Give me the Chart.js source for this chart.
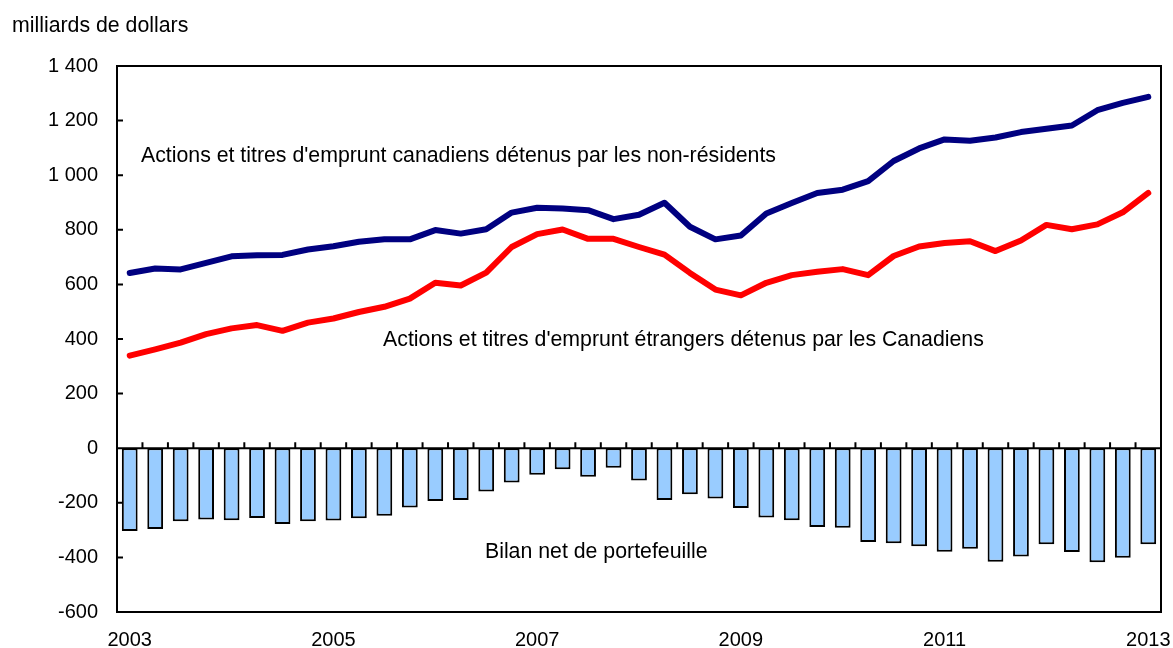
<!DOCTYPE html>
<html>
<head>
<meta charset="utf-8">
<script src="https://cdn.jsdelivr.net/npm/chart.js@4.4.1/dist/chart.umd.min.js"></script>
<style>
  html, body { margin: 0; padding: 0; background: #fff; }
  #wrap { width: 1173px; height: 648px; }
</style>
</head>
<body>
<div id="wrap"><canvas id="chart"></canvas></div>
<script>
// quarterly, 2003 Q1 to 2013 Q1
const quarters = [
  '2003-1','2003-2','2003-3','2003-4','2004-1','2004-2','2004-3','2004-4',
  '2005-1','2005-2','2005-3','2005-4','2006-1','2006-2','2006-3','2006-4',
  '2007-1','2007-2','2007-3','2007-4','2008-1','2008-2','2008-3','2008-4',
  '2009-1','2009-2','2009-3','2009-4','2010-1','2010-2','2010-3','2010-4',
  '2011-1','2011-2','2011-3','2011-4','2012-1','2012-2','2012-3','2012-4',
  '2013-1'
];
const yearLabels = ['2003', '2005', '2007', '2009', '2011', '2013'];

// milliards de dollars
const nonResidentHoldings = [
  642, 658, 655, 679, 703, 707, 708, 728, 740, 756,
  765, 765, 799, 786, 802, 863, 881, 878, 872, 839,
  855, 899, 811, 765, 779, 860, 898, 935, 947, 978,
  1052, 1098, 1131, 1126, 1138, 1158, 1170, 1182, 1238, 1265,
  1287
];
const canadianHoldings = [
  339, 362, 387, 418, 439, 451, 430, 460, 475, 499,
  518, 548, 606, 596, 643, 737, 784, 801, 767, 767,
  737, 709, 642, 581, 560, 606, 634, 646, 656, 634,
  704, 739, 752, 758, 722, 761, 818, 802, 820, 864,
  935
];
const netPortfolio = [
  -303, -296, -268, -261, -264, -256, -278, -268, -265, -257,
  -247, -217, -193, -190, -159, -126, -97, -77, -105, -72,
  -118, -190, -169, -184, -219, -254, -264, -289, -291, -344,
  -348, -359, -379, -368, -416, -397, -352, -380, -418, -401,
  -352
];

const FAMILY = '"Liberation Sans", Arial, sans-serif';
const TICK_FONT = { family: FAMILY, size: 20 };
const TEXT_FONT = `21.3px ${FAMILY}`;

function formatThousands(v) {
  const s = Math.abs(v).toString().replace(/\B(?=(\d{3})+(?!\d))/g, ' ');
  return (v < 0 ? '-' : '') + s;
}

// frame, zero line, small tick marks and the text labels
const decorations = {
  id: 'decorations',
  afterDatasetsDraw(chart) {
    const { ctx, chartArea: a, scales: { x, y } } = chart;
    ctx.save();
    ctx.strokeStyle = '#000';
    ctx.lineWidth = 2;

    const y0 = y.getPixelForValue(0);
    ctx.beginPath();
    ctx.moveTo(a.left, y0);
    ctx.lineTo(a.right, y0);
    for (let i = 0; i < quarters.length - 1; i++) {
      const px = (x.getPixelForValue(i) + x.getPixelForValue(i + 1)) / 2;
      ctx.moveTo(px, y0);
      ctx.lineTo(px, y0 - 6);
    }
    y.ticks.forEach(t => {
      const py = y.getPixelForValue(t.value);
      ctx.moveTo(a.left, py);
      ctx.lineTo(a.left + 6, py);
    });
    ctx.stroke();

    ctx.strokeRect(a.left, a.top, a.right - a.left, a.bottom - a.top);
    ctx.restore();
  },
  afterDraw(chart) {
    const { ctx, scales: { x, y } } = chart;
    ctx.save();
    ctx.fillStyle = '#000';
    ctx.font = TEXT_FONT;
    ctx.textAlign = 'left';
    ctx.textBaseline = 'alphabetic';
    ctx.fillText('milliards de dollars', 12, 32);
    ctx.fillText("Actions et titres d'emprunt canadiens détenus par les non-résidents",
      x.getPixelForValue(0.44), y.getPixelForValue(1048));
    ctx.fillText("Actions et titres d'emprunt étrangers détenus par les Canadiens",
      x.getPixelForValue(9.95), y.getPixelForValue(374));
    ctx.fillText('Bilan net de portefeuille',
      x.getPixelForValue(13.95), y.getPixelForValue(-402));
    ctx.restore();
  }
};

new Chart(document.getElementById('chart'), {
  data: {
    labels: quarters,
    datasets: [
      {
        type: 'line',
        label: "Actions et titres d'emprunt canadiens détenus par les non-résidents",
        data: nonResidentHoldings,
        borderColor: '#000080',
        borderWidth: 6,
        borderCapStyle: 'round',
        borderJoinStyle: 'round',
        pointRadius: 0,
        tension: 0,
        order: 1
      },
      {
        type: 'line',
        label: "Actions et titres d'emprunt étrangers détenus par les Canadiens",
        data: canadianHoldings,
        borderColor: '#ff0000',
        borderWidth: 6,
        borderCapStyle: 'round',
        borderJoinStyle: 'round',
        pointRadius: 0,
        tension: 0,
        order: 2
      },
      {
        type: 'bar',
        label: 'Bilan net de portefeuille',
        data: netPortfolio,
        backgroundColor: '#99ccff',
        borderColor: '#000',
        borderWidth: 2,
        borderSkipped: false,
        categoryPercentage: 1,
        barPercentage: 0.62,
        order: 3
      }
    ]
  },
  options: {
    responsive: true,
    maintainAspectRatio: false,
    animation: false,
    layout: { padding: { top: 66, right: 12, left: 0, bottom: 0 } },
    plugins: {
      legend: { display: false },
      tooltip: { enabled: false }
    },
    scales: {
      x: {
        type: 'category',
        offset: true,
        grid: { display: false },
        border: { display: false },
        ticks: {
          color: '#000',
          font: TICK_FONT,
          padding: 8,
          autoSkip: false,
          maxRotation: 0,
          callback: function (value) {
            const [year, q] = this.getLabelForValue(value).split('-');
            return q === '1' && yearLabels.includes(year) ? year : '';
          }
        },
        afterFit: (scale) => {
          scale.height = 36;
          scale.paddingLeft = 0;
          scale.paddingRight = 0;
        }
      },
      y: {
        min: -600,
        max: 1400,
        grid: { display: false },
        border: { display: false },
        ticks: {
          stepSize: 200,
          color: '#000',
          font: TICK_FONT,
          padding: 11,
          callback: (v) => formatThousands(v)
        },
        afterFit: (scale) => {
          scale.width = 117;
          scale.paddingTop = 0;
          scale.paddingBottom = 0;
        }
      }
    }
  },
  plugins: [decorations]
});
</script>
</body>
</html>
